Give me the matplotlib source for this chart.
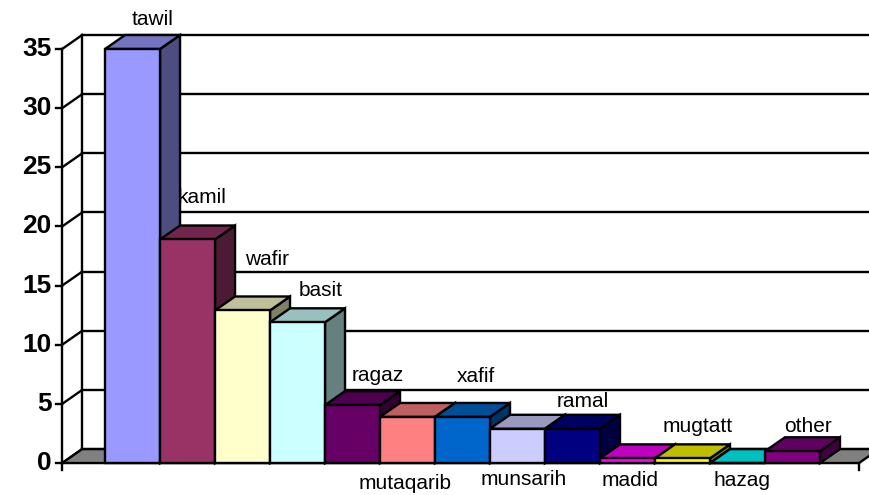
import numpy as np
import matplotlib.pyplot as plt
from matplotlib.colors import to_rgb
from matplotlib.patches import Polygon

plt.rcParams['font.family'] = ['Liberation Sans', 'DejaVu Sans']

# metre names and share of poems (%)
metres = ["tawil", "kamil", "wafir", "basit", "ragaz", "mutaqarib", "xafif",
          "munsarih", "ramal", "madid", "mugtatt", "hazag", "other"]
share = [35.0, 18.9, 12.9, 11.9, 4.9, 3.9, 3.9, 2.9, 2.9, 0.4, 0.4, 0.0, 1.0]
colours = ["#9999FF", "#993366", "#FFFFCC", "#CCFFFF", "#660066", "#FF8080",
           "#0066CC", "#CCCCFF", "#000080", "#FF00FF", "#FFFF00", "#00FFFF",
           "#800080"]
y_ticks = [0, 5, 10, 15, 20, 25, 30, 35]

# label placement: offset in pixels from the top (or foot) of each bar
label_below = [False, False, False, False, False, True, False,
               True, False, True, False, True, False]
label_off = [(20, 29), (15, 42), (25, 51), (23, 32), (25, 30), (-2, -20),
             (13, 40), (6, -16), (10, 27), (3, -17), (15, 32), (5, -17),
             (16, 25)]

fig = plt.figure(figsize=(8.7, 4.95), dpi=100)
ax = fig.add_axes([0, 0, 1, 1])
ax.set_xlim(-2.41, 13.41)
ax.set_ylim(-2.7, 39.14)
ax.axis('off')

lw = 1.7
DX, DY = 0.364, 1.18   # depth of the 3d box in data units
x0 = -1.28             # front of the value axis
x1 = 13.21             # right end of the floor
ymax = y_ticks[-1]

# floor
ax.add_patch(Polygon([(x0, 0), (x1, 0), (x1 + DX, DY), (x0 + DX, DY)],
                     fc='#808080', ec='k', lw=lw, zorder=1))

# walls, gridlines, value axis
for v in y_ticks:
    ax.plot([x0 + DX, 14], [v + DY, v + DY], color='k', lw=lw, zorder=0.5)
    ax.plot([x0, x0 + DX], [v, v + DY], color='k', lw=lw, zorder=0.5)
    ax.plot([x0 - 0.11, x0], [v, v], color='k', lw=lw, zorder=0.5)
    ax.text(x0 - 0.19, v, str(v), ha='right', va='center',
            fontsize=19, fontweight='bold')
ax.plot([x0, x0], [0, ymax], color='k', lw=lw, zorder=0.5)
ax.plot([x0 + DX, x0 + DX], [DY, ymax + DY], color='k', lw=lw, zorder=0.5)
for xe in (x0, x1):
    ax.plot([xe, xe], [0, -0.6], color='k', lw=lw, zorder=0.5)

# side and top faces, left to right
x = np.arange(len(metres))
for i, v, c in zip(x, share, colours):
    rgb = np.array(to_rgb(c))
    l, r = i - 0.5, i + 0.5
    ax.add_patch(Polygon([(r, 0), (r + DX, DY), (r + DX, v + DY), (r, v)],
                         fc=rgb * 0.5, ec='k', lw=lw, zorder=2))
    ax.add_patch(Polygon([(l, v), (r, v), (r + DX, v + DY), (l + DX, v + DY)],
                         fc=rgb * 0.75, ec='k', lw=lw, zorder=2))

# front faces
ax.bar(x, share, width=1.0, color=colours, edgecolor='k', linewidth=lw,
       zorder=3)

for i, (name, v) in enumerate(zip(metres, share)):
    anchor = (i, 0) if label_below[i] else (i, v)
    ax.annotate(name, xy=anchor, xytext=label_off[i],
                textcoords='offset pixels', ha='center', va='center',
                fontsize=15, zorder=5)

fig.savefig('out.png', dpi=100)
